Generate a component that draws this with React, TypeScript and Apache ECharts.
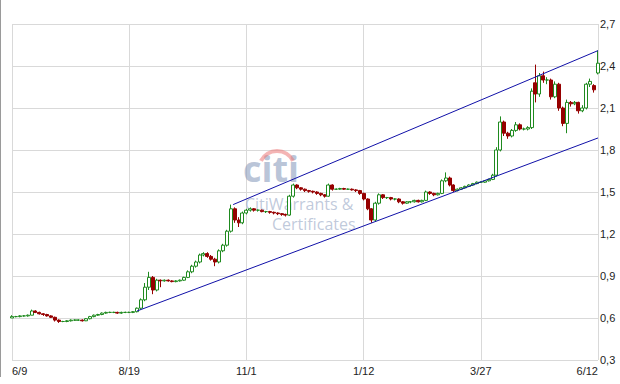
import React, { useEffect, useRef } from "react";
import * as echarts from "echarts";

// Tick labels placed every 30 candles
const tickLabels = ["6/9", "8/19", "11/1", "1/12", "3/27", "6/12"];
const tickEvery = 30;

// Candles: [open, close, low, high]
const ohlc: number[][] = [
  [0.60, 0.61, 0.60, 0.62], [0.61, 0.61, 0.605, 0.615], [0.61, 0.615, 0.605, 0.62], [0.615, 0.615, 0.61, 0.62],
  [0.615, 0.62, 0.61, 0.625], [0.62, 0.65, 0.62, 0.66], [0.65, 0.64, 0.635, 0.655], [0.64, 0.63, 0.625, 0.645],
  [0.63, 0.625, 0.615, 0.635], [0.625, 0.615, 0.61, 0.63], [0.615, 0.605, 0.6, 0.62], [0.605, 0.585, 0.575, 0.61],
  [0.585, 0.575, 0.565, 0.59], [0.575, 0.575, 0.57, 0.58], [0.575, 0.58, 0.57, 0.585], [0.58, 0.585, 0.575, 0.59],
  [0.585, 0.585, 0.58, 0.59], [0.585, 0.585, 0.58, 0.59], [0.585, 0.58, 0.575, 0.59], [0.58, 0.595, 0.578, 0.6],
  [0.595, 0.61, 0.59, 0.615], [0.61, 0.62, 0.605, 0.625], [0.62, 0.625, 0.615, 0.63], [0.625, 0.635, 0.62, 0.64],
  [0.635, 0.64, 0.63, 0.645], [0.64, 0.64, 0.635, 0.645], [0.64, 0.64, 0.635, 0.645], [0.64, 0.635, 0.63, 0.645],
  [0.635, 0.64, 0.63, 0.645], [0.64, 0.64, 0.635, 0.645], [0.64, 0.64, 0.635, 0.645], [0.64, 0.645, 0.635, 0.65],
  [0.645, 0.67, 0.64, 0.675], [0.67, 0.73, 0.66, 0.74], [0.73, 0.82, 0.72, 0.85], [0.82, 0.89, 0.8, 0.93],
  [0.89, 0.8, 0.77, 0.9], [0.8, 0.87, 0.79, 0.88], [0.87, 0.865, 0.82, 0.875], [0.865, 0.87, 0.86, 0.875],
  [0.87, 0.865, 0.86, 0.875], [0.865, 0.86, 0.855, 0.87], [0.86, 0.865, 0.855, 0.87], [0.865, 0.87, 0.86, 0.875],
  [0.87, 0.89, 0.865, 0.895], [0.89, 0.93, 0.885, 0.94], [0.93, 0.97, 0.92, 0.98], [0.97, 1.0, 0.96, 1.01],
  [1.0, 1.05, 0.99, 1.06], [1.05, 1.06, 1.04, 1.07], [1.06, 1.04, 1.03, 1.07], [1.04, 1.02, 1.01, 1.05],
  [1.02, 1.0, 0.97, 1.03], [1.0, 1.08, 0.99, 1.09], [1.08, 1.12, 1.07, 1.13], [1.12, 1.22, 1.11, 1.23],
  [1.22, 1.38, 1.21, 1.41], [1.38, 1.3, 1.28, 1.39], [1.3, 1.28, 1.25, 1.32], [1.28, 1.35, 1.27, 1.36],
  [1.35, 1.37, 1.34, 1.38], [1.37, 1.38, 1.36, 1.39], [1.38, 1.37, 1.36, 1.385], [1.37, 1.37, 1.36, 1.375],
  [1.37, 1.36, 1.355, 1.375], [1.36, 1.36, 1.35, 1.365], [1.36, 1.355, 1.345, 1.365], [1.355, 1.35, 1.34, 1.36],
  [1.35, 1.345, 1.335, 1.355], [1.345, 1.34, 1.33, 1.35], [1.34, 1.335, 1.325, 1.345], [1.335, 1.47, 1.33, 1.48],
  [1.47, 1.55, 1.46, 1.56], [1.55, 1.53, 1.52, 1.555], [1.53, 1.52, 1.51, 1.535], [1.52, 1.51, 1.5, 1.525],
  [1.51, 1.505, 1.495, 1.515], [1.505, 1.5, 1.49, 1.51], [1.5, 1.49, 1.48, 1.505], [1.49, 1.48, 1.47, 1.495],
  [1.48, 1.47, 1.46, 1.485], [1.47, 1.55, 1.465, 1.56], [1.55, 1.52, 1.51, 1.555], [1.52, 1.52, 1.515, 1.525],
  [1.52, 1.525, 1.515, 1.53], [1.525, 1.52, 1.515, 1.53], [1.52, 1.52, 1.515, 1.525], [1.52, 1.515, 1.51, 1.525],
  [1.515, 1.51, 1.5, 1.52], [1.51, 1.49, 1.48, 1.515], [1.49, 1.45, 1.44, 1.495], [1.45, 1.38, 1.37, 1.455],
  [1.38, 1.3, 1.28, 1.385], [1.3, 1.42, 1.29, 1.43], [1.42, 1.48, 1.41, 1.49], [1.48, 1.46, 1.45, 1.485],
  [1.46, 1.46, 1.45, 1.465], [1.46, 1.45, 1.44, 1.465], [1.45, 1.45, 1.44, 1.455], [1.45, 1.43, 1.42, 1.455],
  [1.43, 1.42, 1.41, 1.435], [1.42, 1.43, 1.415, 1.435], [1.43, 1.43, 1.42, 1.435], [1.43, 1.44, 1.425, 1.445],
  [1.44, 1.43, 1.425, 1.445], [1.43, 1.44, 1.425, 1.445], [1.44, 1.5, 1.435, 1.51], [1.5, 1.49, 1.48, 1.505],
  [1.49, 1.48, 1.47, 1.495], [1.48, 1.49, 1.475, 1.495], [1.49, 1.58, 1.485, 1.59], [1.58, 1.6, 1.57, 1.64],
  [1.6, 1.55, 1.54, 1.61], [1.55, 1.51, 1.5, 1.555], [1.51, 1.52, 1.505, 1.525], [1.52, 1.53, 1.515, 1.535],
  [1.53, 1.54, 1.525, 1.545], [1.54, 1.55, 1.535, 1.555], [1.55, 1.56, 1.545, 1.565], [1.56, 1.57, 1.555, 1.575],
  [1.57, 1.57, 1.565, 1.575], [1.57, 1.58, 1.565, 1.585], [1.58, 1.59, 1.575, 1.595], [1.59, 1.62, 1.585, 1.63],
  [1.62, 1.8, 1.61, 1.82], [1.8, 2.0, 1.79, 2.04], [2.0, 1.92, 1.9, 2.01], [1.92, 1.9, 1.88, 1.93],
  [1.9, 1.94, 1.89, 1.95], [1.94, 1.98, 1.93, 2.0], [1.98, 1.95, 1.94, 1.99], [1.95, 1.95, 1.94, 1.96],
  [1.95, 1.96, 1.94, 1.97], [1.96, 2.22, 1.95, 2.24], [2.28, 2.2, 2.14, 2.41], [2.2, 2.33, 2.18, 2.35],
  [2.33, 2.3, 2.28, 2.36], [2.3, 2.3, 2.27, 2.32], [2.3, 2.18, 2.16, 2.31], [2.18, 2.27, 2.17, 2.29],
  [2.27, 2.1, 2.08, 2.28], [2.1, 1.99, 1.97, 2.11], [1.99, 2.14, 1.92, 2.16], [2.14, 2.13, 2.11, 2.15],
  [2.13, 2.14, 2.12, 2.15], [2.14, 2.08, 2.06, 2.145], [2.08, 2.1, 2.07, 2.12], [2.1, 2.27, 2.09, 2.28],
  [2.27, 2.29, 2.25, 2.31], [2.26, 2.23, 2.21, 2.27], [2.35, 2.42, 2.34, 2.51],
];

// Trend channel lines: [candle index, price]
const upperChannel = [[56.6, 1.41], [150, 2.51]];
const lowerChannel = [[32, 0.65], [150, 1.886]];

const yMin = 0.3;
const yMax = 2.7;
const yStep = 0.3;

const categories = ohlc.map((_, i) =>
  i % tickEvery === 0 ? tickLabels[i / tickEvery] ?? String(i) : String(i)
);

export default function App() {
  const ref = useRef<HTMLDivElement>(null);
  useEffect(() => {
    if (!ref.current) return;
    const chart = echarts.init(ref.current, undefined, { renderer: "svg" });
    const gridColor = "#d9d9d9";
    const wmFill = "rgba(150,166,196,0.6)";
    chart.setOption({
      animation: false,
      backgroundColor: "#ffffff",
      grid: { left: 12, right: 22, top: 24, bottom: 24, containLabel: false },
      xAxis: [
        {
          type: "category",
          data: categories,
          boundaryGap: false,
          axisLine: { show: false },
          axisTick: { show: false },
          axisLabel: {
            interval: tickEvery - 1,
            color: "#222",
            fontSize: 11,
            fontFamily: "Liberation Sans, Arial, sans-serif",
            margin: 5,
            alignMinLabel: "left",
            alignMaxLabel: "right",
          },
          splitLine: { show: true, interval: tickEvery - 1, lineStyle: { color: gridColor, width: 1 } },
        },
        {
          type: "value",
          min: 0,
          max: ohlc.length - 1,
          show: false,
        },
      ],
      yAxis: {
        type: "value",
        position: "right",
        min: yMin,
        max: yMax,
        interval: yStep,
        axisLine: { show: false },
        axisTick: { show: false },
        axisLabel: {
          color: "#222",
          fontSize: 11,
          fontFamily: "Liberation Sans, Arial, sans-serif",
          margin: 2,
          formatter: (v: number) => v.toFixed(1).replace(".", ","),
        },
        splitLine: { show: true, lineStyle: { color: gridColor, width: 1 } },
      },
      graphic: [
        {
          type: "line",
          shape: { x1: 0.5, y1: 0, x2: 0.5, y2: 377 },
          style: { stroke: "#9a9a9a", lineWidth: 1 },
          z: 1,
        },
        {
          type: "text",
          x: 243,
          y: 168,
          z: 1,
          style: {
            text: "citi",
            font: "bold 36px 'Open Sans', sans-serif",
            fill: "rgba(140,158,190,0.6)",
            verticalAlign: "middle",
          },
        },
        {
          type: "arc",
          z: 1,
          shape: { cx: 277, cy: 169, r: 18, startAngle: Math.PI * 1.15, endAngle: Math.PI * 1.85, clockwise: true },
          style: { stroke: "rgba(235,120,120,0.55)", lineWidth: 4, fill: null },
        },
        {
          type: "text",
          x: 245,
          y: 196,
          z: 1,
          style: {
            text: "CitiWarrants &",
            font: "16px 'Open Sans', sans-serif",
            lineHeight: 16,
            fill: wmFill,
            verticalAlign: "top",
          },
        },
        {
          type: "text",
          x: 272,
          y: 216,
          z: 1,
          style: {
            text: "Certificates",
            font: "16px 'Open Sans', sans-serif",
            lineHeight: 16,
            fill: wmFill,
            verticalAlign: "top",
          },
        },
      ],
      series: [
        {
          type: "candlestick",
          xAxisIndex: 0,
          data: ohlc,
          barWidth: 3.5,
          z: 3,
          itemStyle: {
            color: "#ffffff",
            borderColor: "#1f8a1f",
            color0: "#960000",
            borderColor0: "#960000",
            borderWidth: 1,
          },
        },
        {
          type: "line",
          xAxisIndex: 1,
          data: upperChannel,
          symbol: "none",
          z: 4,
          lineStyle: { color: "#1010a8", width: 1 },
        },
        {
          type: "line",
          xAxisIndex: 1,
          data: lowerChannel,
          symbol: "none",
          z: 4,
          lineStyle: { color: "#1010a8", width: 1 },
        },
      ],
    });
    return () => chart.dispose();
  }, []);
  return (
    <div
      ref={ref}
      style={{ position: "absolute", left: 0, top: 0, width: 620, height: 384 }}
    />
  );
}
